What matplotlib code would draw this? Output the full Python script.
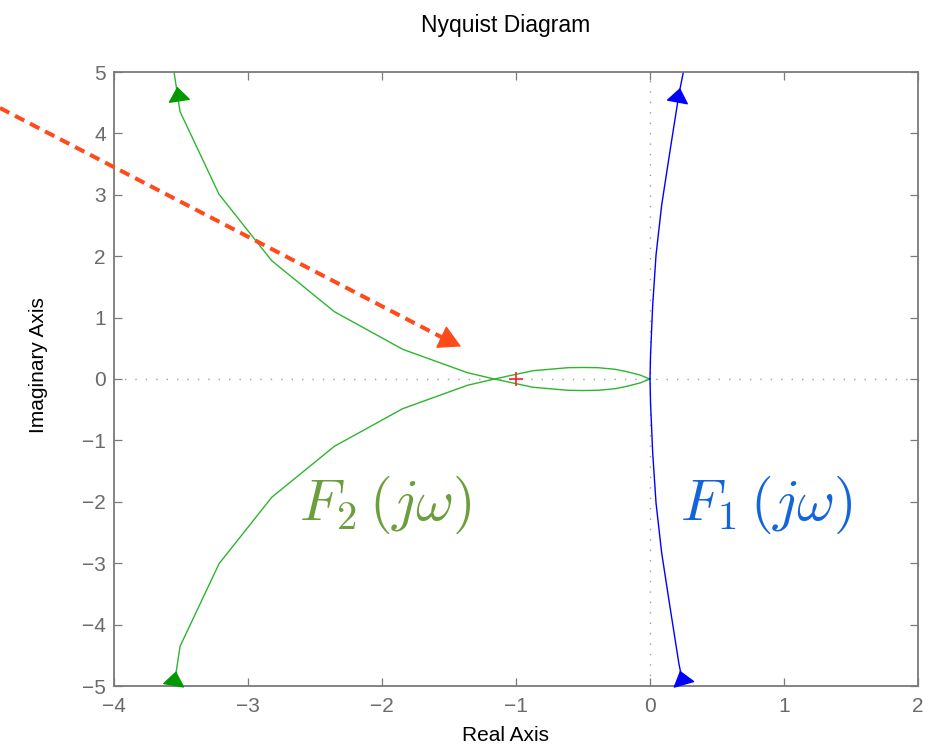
import matplotlib
matplotlib.use("Agg")
import matplotlib.pyplot as plt

plt.rcParams['font.family'] = ['Liberation Sans', 'DejaVu Sans']
plt.rcParams['mathtext.fontset'] = 'cm'

# ---- data ----
# F2: branch entering from top-left, crossing the real axis, lower half of loop
f2_upper_re = [-3.552, -3.507, -3.216, -2.823, -2.356, -1.846, -1.363, -1.162, -0.873, -0.612, -0.50, -0.388, -0.26, -0.172, -0.075, 0.0]
f2_upper_im = [5.0, 4.354, 3.008, 1.927, 1.097, 0.484, 0.103, 0.0, -0.135, -0.184, -0.188, -0.184, -0.158, -0.119, -0.065, 0.0]
# F2: branch entering from bottom-left, upper half of loop
f2_lower_re = [-3.552, -3.507, -3.216, -2.823, -2.356, -1.846, -1.363, -1.162, -0.873, -0.612, -0.50, -0.388, -0.26, -0.172, -0.075, 0.0]
f2_lower_im = [-5.0, -4.354, -3.008, -1.927, -1.097, -0.484, -0.103, 0.0, 0.135, 0.184, 0.188, 0.184, 0.158, 0.119, 0.065, 0.0]
# F1
f1_upper_re = [0.0, 0.004, 0.020, 0.045, 0.087, 0.144, 0.216, 0.249]
f1_upper_im = [0.0, 0.39, 1.20, 2.02, 2.83, 3.64, 4.64, 5.0]
f1_lower_re = [0.0, 0.004, 0.020, 0.045, 0.087, 0.144, 0.216, 0.249]
f1_lower_im = [0.0, -0.39, -1.20, -2.02, -2.83, -3.64, -4.64, -5.0]

# direction arrows (tip, base)
f2_arrows = [((-3.528, 4.76), (-3.513, 4.54)), ((-3.537, -4.76), (-3.552, -4.95))]
f1_arrows = [((0.224, 4.74), (0.207, 4.54)), ((0.224, -4.75), (0.249, -4.94))]

critical_point = (-1.0, 0.0)
red_arrow_start = (-4.851, 4.414)
red_arrow_head_base = (-1.551, 0.676)
red_arrow_tip = (-1.41, 0.53)

x_ticks = [-4, -3, -2, -1, 0, 1, 2]
y_ticks = [-5, -4, -3, -2, -1, 0, 1, 2, 3, 4, 5]

# ---- styles ----
GREEN_LINE = '#2db52d'
GREEN_HEAD = '#009a00'
BLUE = '#0000ff'
RED = '#ff4a1c'
SPINE = '#7a7a7a'
TICKLAB = '#6a6a6a'

fig = plt.figure(figsize=(9.34, 7.46), dpi=100)
ax = fig.add_axes([114/934, 1-686/746, 804/934, 614/746])

ax.set_xlim(-4, 2)
ax.set_ylim(-5, 5)

# zero lines
ax.axhline(0, color='#a0a0a0', lw=1.0, linestyle=(0, (1, 6.5)), zorder=1)
ax.axvline(0, color='#a0a0a0', lw=1.0, linestyle=(0, (1, 6.5)), zorder=1)

ax.plot(f2_upper_re, f2_upper_im, color=GREEN_LINE, lw=1.0, zorder=2)
ax.plot(f2_lower_re, f2_lower_im, color=GREEN_LINE, lw=1.0, zorder=2)
ax.plot(f1_upper_re, f1_upper_im, color=BLUE, lw=1.0, zorder=2)
ax.plot(f1_lower_re, f1_lower_im, color=BLUE, lw=1.0, zorder=2)

for (tip, base) in f2_arrows:
    ax.annotate('', xy=tip, xytext=base,
                arrowprops=dict(arrowstyle='-|>,head_length=0.94,head_width=0.72',
                                mutation_scale=10, color=GREEN_HEAD, lw=1,
                                shrinkA=0, shrinkB=0), zorder=3)
for (tip, base) in f1_arrows:
    ax.annotate('', xy=tip, xytext=base,
                arrowprops=dict(arrowstyle='-|>,head_length=0.94,head_width=0.72',
                                mutation_scale=10, color=BLUE, lw=1,
                                shrinkA=0, shrinkB=0), zorder=3)

ax.plot([critical_point[0]], [critical_point[1]], marker='+', color='#ff2020',
        markersize=9.5, mew=1.2, zorder=4)

# red dashed arrow
ax.plot([red_arrow_start[0], red_arrow_head_base[0]],
        [red_arrow_start[1], red_arrow_head_base[1]],
        color=RED, lw=2.9, linestyle=(0, (2.6, 1.6)), clip_on=False, zorder=5,
        solid_capstyle='butt', dash_capstyle='butt')
ax.annotate('', xy=red_arrow_tip, xytext=red_arrow_head_base,
            arrowprops=dict(arrowstyle='-|>,head_length=1.44,head_width=0.79',
                            mutation_scale=10, color=RED, lw=1,
                            shrinkA=0, shrinkB=0), zorder=5, annotation_clip=False)

# labels on the curves
ax.text(-2.62, -2.30, r'$F_2\,(j\omega)$', color='#6b9e3c', fontsize=42,
        ha='left', va='baseline', zorder=6)
ax.text(0.224, -2.30, r'$F_1\,(j\omega)$', color='#1464dc', fontsize=42,
        ha='left', va='baseline', zorder=6)

# axes styling
ax.set_xticks(x_ticks)
ax.set_yticks(y_ticks)
ax.tick_params(direction='in', top=True, right=True, length=5.8, width=0.9,
               color=SPINE, labelcolor=TICKLAB, labelsize=15)
ax.tick_params(axis='x', pad=8)
ax.tick_params(axis='y', pad=6)
for s in ax.spines.values():
    s.set_color(SPINE)
    s.set_linewidth(1.3)

fig.text(505.5/934, 1-31.7/746, 'Nyquist Diagram', ha='center', va='baseline',
         fontsize=16.5, color='black')
fig.text(505/934, 1-741/746, 'Real Axis', ha='center', va='baseline',
         fontsize=15, color='black')
fig.text(39/934, 1-365/746, 'Imaginary Axis', ha='center', va='center',
         rotation=90, fontsize=15, color='black')

fig.savefig('out.png', dpi=100)
